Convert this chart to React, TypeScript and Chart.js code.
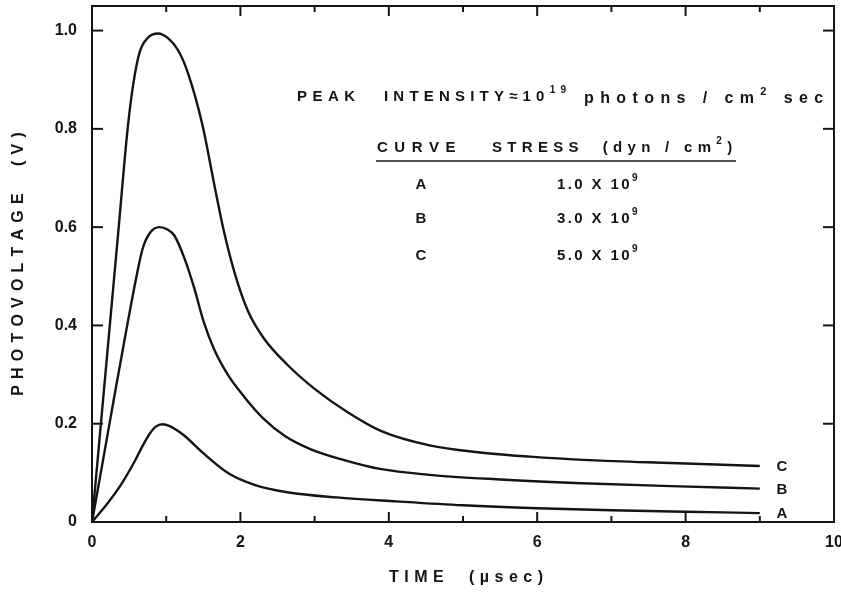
import { useEffect, useRef } from "react";
import { Chart, registerables } from "chart.js";

Chart.register(...registerables);

// ---- data ----
const timeA = [0, 0.2, 0.4, 0.57, 0.69, 0.78, 0.86, 0.95, 1.05, 1.15, 1.25, 1.5, 1.85, 2.2, 2.65, 3.3, 4.1, 5.0, 6.0, 7.0, 8.0, 9.0];
const voltA = [0, 0.036, 0.078, 0.122, 0.157, 0.18, 0.194, 0.199, 0.195, 0.186, 0.175, 0.14, 0.098, 0.075, 0.06, 0.05, 0.042, 0.034, 0.028, 0.024, 0.021, 0.018];

const timeB = [0, 0.15, 0.3, 0.45, 0.6, 0.68, 0.78, 0.91, 1.02, 1.11, 1.25, 1.38, 1.5, 1.65, 1.83, 2.05, 2.3, 2.6, 2.95, 3.4, 3.88, 4.55, 5.45, 6.6, 7.8, 9.0];
const voltB = [0, 0.127, 0.255, 0.38, 0.5, 0.555, 0.588, 0.6, 0.595, 0.583, 0.535, 0.475, 0.41, 0.35, 0.3, 0.255, 0.212, 0.175, 0.148, 0.126, 0.108, 0.096, 0.087, 0.079, 0.073, 0.068];

const timeC = [0, 0.12, 0.24, 0.36, 0.48, 0.55, 0.64, 0.75, 0.89, 1.02, 1.16, 1.29, 1.49, 1.65, 1.78, 1.92, 2.1, 2.32, 2.64, 3.0, 3.44, 3.9, 4.55, 5.2, 5.9, 6.7, 7.8, 9.0];
const voltC = [0, 0.2, 0.4, 0.6, 0.8, 0.885, 0.955, 0.985, 0.994, 0.985, 0.96, 0.915, 0.807, 0.685, 0.59, 0.508, 0.43, 0.373, 0.319, 0.271, 0.224, 0.185, 0.156, 0.142, 0.133, 0.126, 0.12, 0.114];

const curveNames = ["A", "B", "C"];
const stressMantissa = ["1.0", "3.0", "5.0"];
const stressExponent = "9";
const xTickValues = [0, 2, 4, 6, 8, 10];
const yTickValues = [0, 0.2, 0.4, 0.6, 0.8, 1.0];
const xTitle = "TIME  (\u00b5sec)";
const yTitle = "PHOTOVOLTAGE  (V)";

const INK = "#141414";
const FONT = "'Liberation Sans', Arial, sans-serif";

type Part = [string, boolean?];

function partsWidth(ctx: CanvasRenderingContext2D, parts: Part[], size: number, spacing: number) {
  let w = 0;
  for (const [t, sup] of parts) {
    ctx.font = `bold ${sup ? Math.round(size * 0.68) : size}px ${FONT}`;
    for (const ch of t) w += ctx.measureText(ch).width + spacing;
  }
  return w - spacing;
}

function drawParts(
  ctx: CanvasRenderingContext2D,
  x: number,
  y: number,
  parts: Part[],
  size: number,
  spacing: number,
  align: "left" | "center" = "left"
) {
  let cx = align === "center" ? x - partsWidth(ctx, parts, size, spacing) / 2 : x;
  ctx.textAlign = "left";
  ctx.textBaseline = "middle";
  for (const [t, sup] of parts) {
    ctx.font = `bold ${sup ? Math.round(size * 0.68) : size}px ${FONT}`;
    const yy = sup ? y - size * 0.45 : y;
    for (const ch of t) {
      ctx.fillText(ch, cx, yy);
      cx += ctx.measureText(ch).width + spacing;
    }
  }
  return cx - spacing;
}

const framePlugin = {
  id: "frameAndNotes",
  afterDraw(chart: any) {
    const { ctx, chartArea, scales } = chart;
    const { left, right, top, bottom } = chartArea;
    const xs = scales.x;
    const ys = scales.y;
    ctx.save();
    ctx.strokeStyle = INK;
    ctx.fillStyle = INK;
    ctx.lineWidth = 2;
    ctx.strokeRect(left, top, right - left, bottom - top);

    const line = (x1: number, y1: number, x2: number, y2: number) => {
      ctx.beginPath();
      ctx.moveTo(x1, y1);
      ctx.lineTo(x2, y2);
      ctx.stroke();
    };
    // x ticks (major at labelled values, minor in between), inward, top and bottom
    for (let t = 1; t < 10; t++) {
      const px = xs.getPixelForValue(t);
      const len = xTickValues.includes(t) ? 10 : 6;
      line(px, bottom, px, bottom - len);
      line(px, top, px, top + len);
    }
    for (const v of yTickValues) {
      if (v === 0) continue;
      const py = ys.getPixelForValue(v);
      line(left, py, left + 11, py);
      line(right, py, right - 11, py);
    }

    // axis titles
    drawParts(ctx, 466, 578, [[xTitle]], 16, 5.5, "center");
    ctx.save();
    ctx.translate(19, 264);
    ctx.rotate(-Math.PI / 2);
    drawParts(ctx, 0, 0, [[yTitle]], 16, 6.2, "center");
    ctx.restore();

    // annotation: peak intensity
    drawParts(ctx, 297, 97, [["PEAK"]], 15, 5.5);
    drawParts(ctx, 384, 97, [["INTENSITY\u224810"], ["19", true]], 15, 5.2);
    drawParts(ctx, 584, 99, [["photons / cm"], ["2", true], [" sec"]], 16, 6.4);

    // table header
    drawParts(ctx, 377, 148, [["CURVE"]], 15, 6.5);
    drawParts(ctx, 492, 148, [["STRESS  (dyn / cm"], ["2", true], [")"]], 15, 5.3);
    ctx.lineWidth = 1.6;
    line(376, 161, 736, 161);

    // table rows
    const rowY = [185, 219, 256];
    curveNames.forEach((n, i) => {
      drawParts(ctx, 421, rowY[i], [[n]], 15, 0, "center");
      drawParts(ctx, 557, rowY[i], [[stressMantissa[i] + " X 10"], [stressExponent, true]], 15, 2.4);
    });

    // curve end labels
    const datasets = chart.data.datasets;
    datasets.forEach((ds: any) => {
      const last = ds.data[ds.data.length - 1];
      const px = xs.getPixelForValue(last.x) + 22;
      const py = ys.getPixelForValue(last.y) + 1;
      drawParts(ctx, px, py, [[ds.label]], 15, 0, "center");
    });
    ctx.restore();
  },
};

const toPoints = (xs: number[], ys: number[]) => xs.map((x, i) => ({ x, y: ys[i] }));

const zeroPad = (s: any) => {
  s.paddingLeft = 0;
  s.paddingRight = 0;
  s.paddingTop = 0;
  s.paddingBottom = 0;
};

export default function App() {
  const ref = useRef<HTMLCanvasElement>(null);
  useEffect(() => {
    if (!ref.current) return;
    const lineDs = (label: string, xs: number[], ys: number[]) => ({
      label,
      data: toPoints(xs, ys),
      borderColor: INK,
      borderWidth: 2.4,
      pointRadius: 0,
      fill: false,
      cubicInterpolationMode: "monotone" as const,
    });
    const chart = new Chart(ref.current, {
      type: "line",
      data: {
        datasets: [
          lineDs(curveNames[0], timeA, voltA),
          lineDs(curveNames[1], timeB, voltB),
          lineDs(curveNames[2], timeC, voltC),
        ],
      },
      options: {
        responsive: false,
        animation: false,
        events: [],
        layout: { padding: { top: 6, right: 7, left: 0, bottom: 0 } },
        plugins: { legend: { display: false }, tooltip: { enabled: false } },
        scales: {
          x: {
            type: "linear",
            min: 0,
            max: 10,
            grid: { display: false, drawTicks: false },
            border: { display: false },
            ticks: {
              stepSize: 2,
              color: INK,
              padding: 11,
              maxRotation: 0,
              font: { family: FONT, size: 16, weight: "bold" },
              callback: (v: any) => (xTickValues.includes(Number(v)) ? String(v) : ""),
            },
            afterFit: (s: any) => {
              s.height = 70;
              zeroPad(s);
            },
          },
          y: {
            type: "linear",
            min: 0,
            max: 1.05,
            grid: { display: false, drawTicks: false },
            border: { display: false },
            ticks: {
              stepSize: 0.2,
              includeBounds: false,
              color: INK,
              padding: 15,
              font: { family: FONT, size: 16, weight: "bold" },
              callback: (v: any) => {
                const n = Number(v);
                return n === 0 ? "0" : n.toFixed(1);
              },
            },
            afterFit: (s: any) => {
              s.width = 92;
              zeroPad(s);
            },
          },
        },
      },
      plugins: [framePlugin],
    });
    return () => chart.destroy();
  }, []);
  return (
    <div style={{ position: "fixed", left: 0, top: 0, width: 841, height: 592, background: "#fff" }}>
      <canvas ref={ref} width={841} height={592} style={{ display: "block" }} />
    </div>
  );
}
